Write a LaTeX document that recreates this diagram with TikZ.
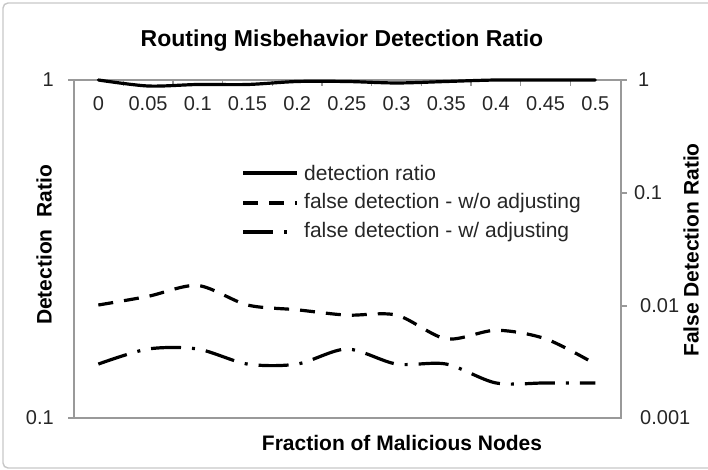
\documentclass[tikz,border=0pt]{standalone}
\usepackage{fontspec}
\setmainfont{Liberation Sans}
\usetikzlibrary{positioning}

\begin{document}
\begin{tikzpicture}[
  x=1pt, y=-1pt,
  frame/.style={draw=black!22, line width=1.4pt, rounded corners=5pt},
  axisline/.style={draw=black!40, line width=1.3pt},
  ticklabel/.style={font=\fontsize{20}{24}\selectfont, text=black!85, inner sep=0pt},
  axistitle/.style={font=\bfseries\fontsize{21}{25}\selectfont, inner sep=0pt},
  maintitle/.style={font=\bfseries\fontsize{23}{27}\selectfont, inner sep=0pt},
  legendtext/.style={font=\fontsize{21}{25}\selectfont, text=black!85, inner sep=0pt, anchor=west},
  series/.style={line width=3.2pt},
  solidline/.style={series, line cap=round},
  dashline/.style={series, dash pattern=on 15pt off 11pt},
  dashdotline/.style={series, dash pattern=on 30pt off 11pt on 3pt off 11pt}
]
\useasboundingbox (0,0) rectangle (708,470);
\draw[frame] (3,3) rectangle (740,468);

% title
\node[maintitle] (title) at (342,41) {Routing Misbehavior Detection Ratio};

% axes
\draw[axisline] (68,80) -- (627,80);
\draw[axisline] (74,80) -- (74,418) -- (621,418) -- (621,80);
\draw[axisline] (68,418) -- (74,418);
\draw[axisline] (621,193) -- (627,193);
\draw[axisline] (621,306) -- (627,306);
\foreach \i in {1,...,10}
  \draw[axisline] ({73.5+49.7*\i},80) -- ({73.5+49.7*\i},86);

% category labels
\foreach \lab [count=\i from 0] in {0,0.05,0.1,0.15,0.2,0.25,0.3,0.35,0.4,0.45,0.5}
  \node[ticklabel] (cat\i) at ({98.35+49.7*\i},104) {\lab};

% left axis labels
\node[ticklabel, anchor=east] (lone) at (54,80) {1};
\node[ticklabel, anchor=east] (ltenth) at (54,418) {0.1};
% right axis labels
\node[ticklabel, anchor=west] (rone) at (638,80) {1};
\node[ticklabel, anchor=west] (rtenth) at (634,193) {0.1};
\node[ticklabel, anchor=west] (rhundredth) at (640,306) {0.01};
\node[ticklabel, anchor=west] (rthousandth) at (640,418) {0.001};

% axis titles
\node[axistitle] (xtitle) at (402,443) {Fraction of Malicious Nodes};
\node[axistitle, rotate=90] (ltitle) at (44,245) {Detection~ Ratio};
\node[axistitle, rotate=90] (rtitle) at (691,250) {False Detection Ratio};

% detection ratio (left axis)
\begin{scope}[shift={(98.35,80)}, x=49.7pt, y=338pt]
  \draw[solidline] plot[smooth] coordinates {(0,0) (1,{log10(0.96)}) (2,{log10(0.97)})
    (3,{log10(0.97)}) (4,{log10(0.99)}) (5,{log10(0.99)}) (6,{log10(0.98)})
    (7,{log10(0.99)}) (8,0) (9,0) (10,0)};
\end{scope}

% false detection (right axis)
\begin{scope}[shift={(98.35,80)}, x=49.7pt, y=112.67pt]
  \draw[dashline] plot[smooth] coordinates {(0,{log10(0.01)}) (1,{log10(0.012)})
    (2,{log10(0.015)}) (3,{log10(0.01)}) (4,{log10(0.009)}) (5,{log10(0.008)})
    (6,{log10(0.008)}) (7,{log10(0.005)}) (8,{log10(0.006)}) (9,{log10(0.005)})
    (10,{log10(0.003)})};
  \draw[dashdotline] plot[smooth] coordinates {(0,{log10(0.003)}) (1,{log10(0.004)})
    (2,{log10(0.004)}) (3,{log10(0.003)}) (4,{log10(0.003)}) (5,{log10(0.004)})
    (6,{log10(0.003)}) (7,{log10(0.003)}) (8,{log10(0.002)}) (9,{log10(0.002)})
    (10,{log10(0.002)})};
\end{scope}

% legend
\node[legendtext] (legdet) at (304,173) {detection ratio};
\node[legendtext] (legwo) at (304,203) {false detection - w/o adjusting};
\node[legendtext] (legw) at (304,232) {false detection - w/ adjusting};
\draw[series] (243,173) -- (297,173);
\draw[dashline] (243,203) -- (297,203);
\draw[dashdotline] (243,232) -- (297,232);
\end{tikzpicture}
\end{document}
